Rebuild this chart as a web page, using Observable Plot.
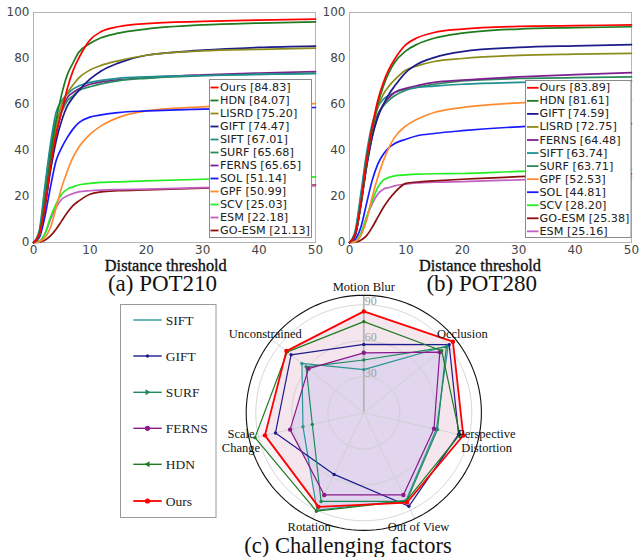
<!DOCTYPE html>
<html><head><meta charset="utf-8">
<script src="https://cdn.jsdelivr.net/npm/d3@7"></script>
<script src="https://cdn.jsdelivr.net/npm/@observablehq/plot@0.6"></script>
<style>
body{margin:0;background:#fff;}
#root{position:relative;width:639px;height:557px;overflow:hidden;background:#fff;}
</style></head><body><div id="root"></div>
<script>
// ---------- Distance-threshold curves ----------
const distX = [0, 1, 2, 3, 4, 5, 6, 7, 8, 10, 12, 15, 20, 30, 40, 50];
const xTicks = [0, 10, 20, 30, 40, 50];
const yTicks = [0, 20, 40, 60, 80, 100];

// (a) POT210
const methodsA = ["Ours", "HDN", "LISRD", "GIFT", "SIFT", "SURF", "FERNS", "SOL", "GPF", "SCV", "ESM", "GO-ESM"];
const scoresA  = ["84.83", "84.07", "75.20", "74.47", "67.01", "65.68", "65.65", "51.14", "50.99", "25.03", "22.18", "21.13"];
const a_Ours  = [0, 3.5, 15, 32.6, 47, 57, 67, 74.6, 80, 88, 91.7, 93.8, 95.2, 96.1, 96.7, 97.1];
const a_HDN   = [0, 3.6, 18, 37, 53, 64.5, 73, 78, 82.6, 86.5, 89, 91, 92.8, 94.6, 95.4, 95.9];
const a_LISRD = [0, 3, 18, 35.5, 50, 60, 65, 68.5, 71.5, 75, 77, 79, 81.4, 83.3, 84, 84.5];
const a_GIFT  = [0, 2.5, 15, 31, 44, 53, 59.4, 63, 66, 71, 74.6, 78, 81.4, 83.6, 84.8, 85.4];
const a_SIFT  = [0, 5, 24, 42.7, 56.5, 61.6, 64.5, 66.7, 68, 69.6, 70.5, 71.4, 72, 72.6, 73.1, 73.5];
const a_SURF  = [0, 4, 22.5, 41, 53, 57, 61.6, 63.8, 66, 67.7, 69, 70.3, 71.4, 72.5, 73.1, 73.5];
const a_FERNS = [0, 3, 15, 32.6, 47, 57, 63, 65.2, 66.7, 68.8, 69.8, 70.7, 71.7, 72.9, 73.7, 74.3];
const a_SOL   = [0, 2, 11, 24, 35.5, 41.3, 45.7, 49.3, 52, 54.5, 55.5, 56.5, 57.2, 58, 58.4, 58.7];
const a_GPF   = [0, 0.4, 2, 6.5, 15, 24, 31, 37, 41.3, 47, 50.7, 54.3, 57.2, 59, 59.8, 60.4];
const a_SCV   = [0, 0.5, 3.6, 11, 16.7, 21, 23.2, 24.2, 25, 25.7, 26.1, 26.4, 26.8, 27.5, 28, 28.5];
const a_ESM   = [0, 0.5, 3.6, 10, 15.2, 18.8, 20.3, 21.3, 22, 22.5, 22.8, 23, 23.2, 23.9, 24.3, 24.6];
const a_GOESM = [0, 0.2, 1, 2.9, 5.8, 9.4, 13, 16, 18, 21, 22, 22.5, 22.9, 23.6, 24.2, 25];

// (b) POT280
const methodsB = ["Ours", "HDN", "GIFT", "LISRD", "FERNS", "SIFT", "SURF", "GPF", "SOL", "SCV", "GO-ESM", "ESM"];
const scoresB  = ["83.89", "81.61", "74.59", "72.75", "64.48", "63.74", "63.71", "52.53", "44.81", "28.20", "25.38", "25.16"];
const b_Ours  = [0, 3.6, 16.7, 35.5, 50, 61.6, 69.6, 75.4, 79.7, 86, 89, 91.3, 92.8, 94, 94.3, 94.6];
const b_HDN   = [0, 3.5, 16, 34, 48.6, 60, 68, 74, 78.3, 83.3, 86.2, 88.8, 91, 92.8, 93.4, 93.8];
const b_GIFT  = [0, 3, 16, 32.6, 45.7, 54.3, 60, 64.5, 68, 74, 77.5, 80.4, 83, 84.8, 85.5, 86];
const b_LISRD = [0, 3, 16.7, 34, 48.6, 58.7, 64.5, 68, 70.7, 75, 76.8, 78.7, 80, 81.4, 81.9, 82.2];
const b_FERNS = [0, 3, 16.7, 32.6, 45.7, 55, 60, 63, 65.2, 67, 68.2, 69.6, 70.6, 72, 73, 73.9];
const b_SIFT  = [0, 5, 21, 38.4, 51.4, 58.7, 62.3, 64, 65.2, 66.7, 67.4, 68, 68.8, 69.6, 70, 70.3];
const b_SURF  = [0, 4.3, 19.6, 37, 49.3, 55.8, 59.4, 61.9, 63.8, 66.2, 67.5, 68.8, 70.3, 71.3, 71.7, 72];
const b_GPF   = [0, 0.4, 2.9, 9.4, 19.6, 28.3, 35.5, 41.3, 45.7, 50.7, 53.6, 56.5, 58.7, 60.7, 61.6, 62];
const b_SOL   = [0, 1.4, 6.5, 16.7, 26.8, 34, 38.4, 41.3, 43, 44.9, 46.4, 47.4, 48.6, 50.3, 51, 51.7];
const b_SCV   = [0, 0.5, 3.6, 10.9, 18, 23.9, 27.1, 28.3, 29, 29.4, 29.7, 29.9, 30, 30.9, 31.4, 31.9];
const b_GOESM = [0, 0.2, 1, 2.9, 6.5, 10.9, 15.2, 18.8, 21.7, 25.7, 26.3, 26.8, 27.5, 28.6, 29.2, 29.7];
const b_ESM   = [0, 0.5, 3.6, 10.9, 16.7, 21, 23.2, 23.9, 24.6, 25.4, 25.9, 26.2, 26.5, 27.2, 27.8, 28.3];

const methodNames  = ["Ours", "HDN", "LISRD", "GIFT", "SIFT", "SURF", "FERNS", "SOL", "GPF", "SCV", "ESM", "GO-ESM"];
const methodColors = ["#ff0000", "#1e7b1e", "#8c8c1a", "#1c1c8c", "#1f8f8f", "#2a8a5a", "#7f1f8f", "#1a1aff", "#ff8c30", "#22ee22", "#c060c0", "#8b1010"];

// ---------- Radar: challenging factors ----------
const radarFactors = ["Motion Blur", "Occlusion", "Perspective\nDistortion", "Out of View", "Rotation", "Scale\nChange", "Unconstrained"];
const radarMethods = ["SIFT", "GIFT", "SURF", "FERNS", "HDN", "Ours"];
const radarColors  = ["#2a9696", "#1c1c8c", "#1e8a5a", "#8a1a8a", "#1f7a1f", "#ff0000"];
const radarSIFT  = [36, 90, 62, 81, 90, 52, 66];
const radarGIFT  = [57, 91, 81, 86.5, 57, 75.5, 77.5];
const radarSURF  = [44, 88, 63, 82, 82, 44, 61.5];
const radarFERNS = [50, 81, 60, 76, 76, 63, 59];
const radarHDN   = [76, 83, 82, 81.5, 91, 93, 81.5];
const radarOurs  = [84.5, 95, 85, 83, 87, 84.5, 82.5];
const radarRings = [30, 60, 90];
const radarMax = 98;

// ---------- build ----------
const root = document.getElementById("root");
function place(el, left, top) {
  el.style.position = "absolute";
  el.style.left = left + "px";
  el.style.top = top + "px";
  root.appendChild(el);
}

const seriesA = {Ours: a_Ours, HDN: a_HDN, LISRD: a_LISRD, GIFT: a_GIFT, SIFT: a_SIFT, SURF: a_SURF, FERNS: a_FERNS, SOL: a_SOL, GPF: a_GPF, SCV: a_SCV, ESM: a_ESM, "GO-ESM": a_GOESM};
const seriesB = {Ours: b_Ours, HDN: b_HDN, LISRD: b_LISRD, GIFT: b_GIFT, SIFT: b_SIFT, SURF: b_SURF, FERNS: b_FERNS, SOL: b_SOL, GPF: b_GPF, SCV: b_SCV, ESM: b_ESM, "GO-ESM": b_GOESM};

function rowsFor(series, order) {
  return order.slice().reverse().flatMap(m => distX.map((x, i) => ({method: m, x, y: series[m][i]})));
}

function lineChart(rows, w, ml, mr) {
  return Plot.plot({
    width: w, height: 262,
    marginLeft: ml, marginRight: mr, marginTop: 12, marginBottom: 20,
    style: {background: "none", overflow: "visible", fontFamily: "DejaVu Sans", fontSize: "12px", color: "#444"},
    x: {domain: [0, 50], ticks: xTicks, tickSize: 0, tickPadding: 3, label: null},
    y: {domain: [0, 100], ticks: yTicks, tickSize: 0, tickPadding: 4, label: null},
    color: {domain: methodNames, range: methodColors},
    marks: [
      Plot.frame({stroke: "#b4b4b4"}),
      Plot.line(rows, {x: "x", y: "y", z: "method", stroke: "method", curve: "monotone-x", strokeWidth: 1.7})
    ]
  });
}

place(lineChart(rowsFor(seriesA, methodsA), 320, 33, 5), 0, 0);
place(lineChart(rowsFor(seriesB, methodsB), 319, 29, 8), 320, 0);

// radar
const radarValues = [radarSIFT, radarGIFT, radarSURF, radarFERNS, radarHDN, radarOurs];
const angles = radarFactors.map((_, i) => Math.PI / 2 - i * 2 * Math.PI / radarFactors.length);
const polar = (v, a) => ({x: v * Math.cos(a), y: v * Math.sin(a)});
const polyRows = {};
radarMethods.forEach((m, k) => {
  polyRows[m] = radarValues[k].map((v, i) => ({method: m, ...polar(v, angles[i])}));
});
const circleRows = (v) => d3.range(0, 361, 3).map(d => ({ring: v, ...polar(v, d * Math.PI / 180)}));
const ringRows = radarRings.flatMap(circleRows);
const spokeRows = angles.map((a, i) => ({i, ...polar(radarMax, a)}));
const labelRows = radarFactors.map((f, i) => ({f, ...polar(105, angles[i])}));
const ringLabelRows = radarRings.map(v => ({v, x: 0, y: v}));

const radarMarks = [
  Plot.line(polyRows.HDN, {x: "x", y: "y", curve: "linear-closed", fill: "#f7f4fb", stroke: "none"}),
  Plot.line(polyRows.GIFT, {x: "x", y: "y", curve: "linear-closed", fill: "#f7f4fb", stroke: "none"}),
  Plot.line(polyRows.Ours, {x: "x", y: "y", curve: "linear-closed", fill: "#f5e6ee", stroke: "none"}),
  Plot.line(polyRows.SIFT, {x: "x", y: "y", curve: "linear-closed", fill: "#e1d6ed", stroke: "none"}),
  Plot.line(polyRows.SURF, {x: "x", y: "y", curve: "linear-closed", fill: "#e1d6ed", stroke: "none"}),
  Plot.line(polyRows.FERNS, {x: "x", y: "y", curve: "linear-closed", fill: "#e1d6ed", stroke: "none"}),
  Plot.line(ringRows, {x: "x", y: "y", z: "ring", stroke: "#cdcdcd", strokeWidth: 0.8}),
  Plot.link(spokeRows, {x1: () => 0, y1: () => 0, x2: "x", y2: "y", stroke: d => d.i === 0 ? "#b4b4b4" : "#cdcdcd", strokeWidth: d => d.i === 0 ? 1.8 : 0.8}),
  Plot.line(circleRows(radarMax), {x: "x", y: "y", stroke: "#111", strokeWidth: 1.1}),
  Plot.text(ringLabelRows, {x: "x", y: "y", text: d => String(d.v), textAnchor: "start", lineAnchor: "bottom", dx: 1, fill: "#a0a0a0", fontSize: 12})
];
radarMethods.forEach((m, k) => {
  radarMarks.push(Plot.line(polyRows[m], {x: "x", y: "y", curve: "linear-closed", stroke: radarColors[k], strokeWidth: m === "Ours" ? 1.8 : 1.2}));
});
radarMethods.forEach((m, k) => {
  radarMarks.push(Plot.dot(polyRows[m], {x: "x", y: "y", r: m === "Ours" || m === "FERNS" ? 2.2 : 1.7, fill: radarColors[k], stroke: "none"}));
});
radarMarks.push(Plot.text(labelRows, {x: "x", y: "y", text: "f", fontSize: 12.5, lineHeight: 1.05, fill: "#111"}));

const radar = Plot.plot({
  width: 330, height: 270, margin: 0,
  style: {background: "none", overflow: "visible", fontFamily: "Liberation Serif"},
  x: {domain: [-137.75, 137.25], axis: null},
  y: {domain: [-114.75, 110.25], axis: null},
  marks: radarMarks
});
place(radar, 198, 280);

// ---------- overlay: legends and captions ----------
const ov = d3.create("svg").attr("width", 639).attr("height", 557).attr("xmlns", "http://www.w3.org/2000/svg");
function caption(txt, x, y, size, len, heavy) {
  const t = ov.append("text").attr("x", x).attr("y", y).attr("text-anchor", "middle")
    .attr("font-family", "Liberation Serif").attr("font-size", size).attr("fill", "#111").text(txt);
  if (len) t.attr("textLength", len).attr("lengthAdjust", "spacingAndGlyphs");
  if (heavy) t.attr("stroke", "#111").attr("stroke-width", 0.35);
}
caption("Distance threshold", 165.8, 271, 16.5, 122, true);
caption("Distance threshold", 480, 271, 16.5, 122, true);
caption("(a) POT210", 162.5, 290.5, 23);
caption("(b) POT280", 481.7, 290.5, 23);
caption("(c) Challenging factors", 348, 552.5, 22.5);

function lineLegend(order, scores, bx, by, bw, bh, y0, dy, lx1, lx2, tx) {
  ov.append("rect").attr("x", bx).attr("y", by).attr("width", bw).attr("height", bh)
    .attr("fill", "#fff").attr("stroke", "#8a8a8a").attr("stroke-width", 1);
  order.forEach((m, i) => {
    const y = y0 + i * dy;
    const c = methodColors[methodNames.indexOf(m)];
    ov.append("line").attr("x1", lx1).attr("x2", lx2).attr("y1", y).attr("y2", y)
      .attr("stroke", c).attr("stroke-width", 1.8);
    ov.append("text").attr("x", tx).attr("y", y).attr("dominant-baseline", "central")
      .attr("font-family", "DejaVu Sans").attr("font-size", 11.2).attr("fill", "#222")
      .text(`${m} [${scores[i]}]`);
  });
}
lineLegend(methodsA, scoresA, 209.5, 79.5, 102, 158, 87.5, 13, 210.5, 218.5, 220);
lineLegend(methodsB, scoresB, 525.5, 80.5, 105.5, 157, 87.8, 13.05, 527, 538.5, 539.5);

// radar legend
ov.append("rect").attr("x", 120.5).attr("y", 304.5).attr("width", 95.5).attr("height", 213)
  .attr("fill", "#fff").attr("stroke", "#9a9a9a").attr("stroke-width", 1);
const radarLegendY = [320, 356, 392.3, 428.3, 464.3, 501];
const radarMarkers = ["none", "dot-s", "tri-r", "dot", "tri-l", "dot"];
radarMethods.forEach((m, k) => {
  const y = radarLegendY[k], c = radarColors[k], mx = 147.5;
  ov.append("line").attr("x1", 133.3).attr("x2", 161.7).attr("y1", y).attr("y2", y)
    .attr("stroke", c).attr("stroke-width", m === "Ours" ? 1.8 : 1.4);
  const mk = radarMarkers[k];
  if (mk === "dot" || mk === "dot-s") {
    ov.append("circle").attr("cx", mx).attr("cy", y).attr("r", mk === "dot" ? 2.6 : 1.7).attr("fill", c);
  } else if (mk === "tri-r") {
    ov.append("path").attr("d", `M${mx + 3},${y} L${mx - 2},${y - 3} L${mx - 2},${y + 3} Z`).attr("fill", c);
  } else if (mk === "tri-l") {
    ov.append("path").attr("d", `M${mx - 3},${y} L${mx + 2},${y - 3} L${mx + 2},${y + 3} Z`).attr("fill", c);
  }
  ov.append("text").attr("x", 165.7).attr("y", y).attr("dominant-baseline", "central")
    .attr("font-family", "Liberation Serif").attr("font-size", 13.5).attr("fill", "#222").text(m);
});

const ovNode = ov.node();
ovNode.style.pointerEvents = "none";
place(ovNode, 0, 0);
</script>
</body></html>
